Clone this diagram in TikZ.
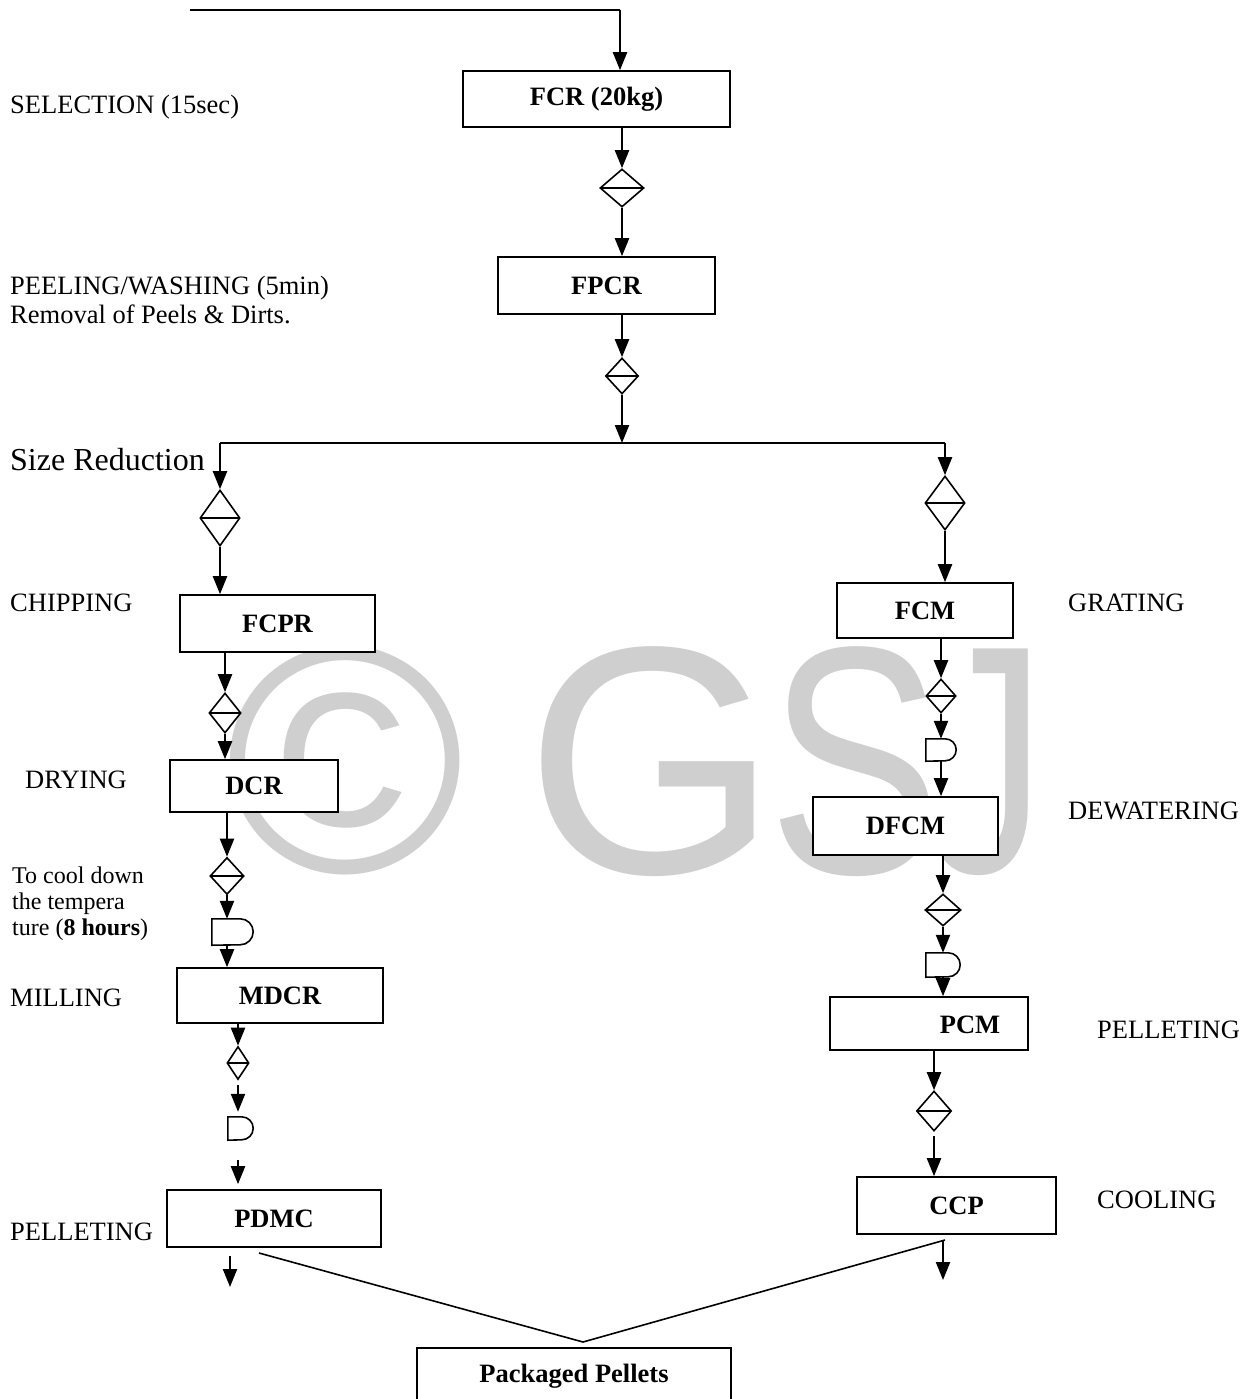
\documentclass[tikz,border=0pt]{standalone}
\usepackage{fontspec}
\setmainfont{Liberation Serif}
\newfontfamily\wmfont{Liberation Sans}
\usetikzlibrary{arrows.meta,shapes.geometric,calc}
\tikzset{
 box/.style={draw,line width=1.6pt,fill=white,inner sep=0,font=\bfseries\fontsize{26.5}{30}\selectfont},
 dia/.style={diamond,draw,line width=1.6pt,fill=white,inner sep=0,
   path picture={\draw[line width=1.6pt] (path picture bounding box.west) -- (path picture bounding box.east);}},
 arr/.style={line width=2.2pt,-{Triangle[length=18pt,width=14pt]}},
 ln/.style={line width=1.6pt},
 lbl/.style={anchor=west,inner sep=0,font=\fontsize{26.5}{29}\selectfont,align=left},
 wm/.style={text=gray!38,inner sep=0,font=\wmfont\fontsize{325}{330}\selectfont},
}
\newcommand\dshape[5]{%
  \node[inner sep=0,minimum width=#4pt,minimum height=#5pt] (#1) at (#2,-#3) {};
  \draw[ln,fill=white] (#1.south west) -- (#1.north west) -- ($(#1.north east)+(-#5/2,0)$)
     arc[start angle=90,end angle=-90,radius=#5/2] -- cycle;
}
\begin{document}
\begin{tikzpicture}[x=1pt,y=1pt]
\useasboundingbox (0,0) rectangle (1254,-1399);
% watermark
\node[wm] (wmc) at (345,-760) {©};
\node[wm] (wmg) at (652,-762) {G};
\node[wm] (wms) at (855,-762) {\scalebox{0.8}[1]{S}};
\node[wm] (wmj) at (985,-762) {\scalebox{0.75}[1]{J}};

% boxes
\node[box,minimum width=267pt,minimum height=56pt] (FCR) at (596.5,-99) {FCR (20kg)};
\node[box,minimum width=217pt,minimum height=57pt] (FPCR) at (606.5,-285.5) {FPCR};
\node[box,minimum width=195pt,minimum height=57pt] (FCPR) at (277.5,-623.5) {FCPR};
\node[box,minimum width=176pt,minimum height=55pt] (FCM) at (925,-610.5) {FCM};
\node[box,minimum width=168pt,minimum height=52pt] (DCR) at (254,-786) {DCR};
\node[box,minimum width=185pt,minimum height=58pt] (DFCM) at (905.5,-826) {DFCM};
\node[box,minimum width=206pt,minimum height=55pt] (MDCR) at (280,-995.5) {MDCR};
\node[box,minimum width=198pt,minimum height=53pt] (PCM) at (929,-1023.5) {};
\node[inner sep=0,font=\bfseries\fontsize{26.5}{30}\selectfont] (PCMt) at (970,-1025) {PCM};
\node[box,minimum width=214pt,minimum height=57pt] (PDMC) at (274,-1218.5) {PDMC};
\node[box,minimum width=199pt,minimum height=57pt] (CCP) at (956.5,-1205.5) {CCP};
\node[box,minimum width=314pt,minimum height=57pt] (PKG) at (574,-1376.5) {Packaged Pellets};

% diamonds
\node[dia,minimum width=44pt,minimum height=38pt] (d1) at (622,-188) {};
\node[dia,minimum width=33pt,minimum height=36pt] (d2) at (622,-376) {};
\node[dia,minimum width=40pt,minimum height=56pt] (d3) at (220,-518) {};
\node[dia,minimum width=40pt,minimum height=54pt] (d4) at (945,-503) {};
\node[dia,minimum width=32pt,minimum height=40pt] (d5) at (225,-713) {};
\node[dia,minimum width=30pt,minimum height=34pt] (d6) at (941,-696) {};
\node[dia,minimum width=34pt,minimum height=37pt] (d7) at (227,-876) {};
\node[dia,minimum width=36pt,minimum height=32pt] (d8) at (943,-910) {};
\node[dia,minimum width=22pt,minimum height=33pt] (d9) at (238,-1063) {};
\node[dia,minimum width=35pt,minimum height=40pt] (d10) at (934,-1111) {};

% delay shapes
\dshape{D1}{941}{750}{30}{22}
\dshape{D2}{232.5}{932}{41}{26}
\dshape{D3}{943}{965}{34}{24}
\dshape{D4}{240.5}{1128.5}{25}{23}

% connectors
\coordinate (tstart) at (190,-10);
\coordinate (tcorner) at (620,-10);
\draw[ln] (tstart) -- (tcorner);
\draw[arr] (tcorner) -- (tcorner |- FCR.north);
\draw[arr] (FCR.south -| d1) -- (d1.north);
\draw[arr] (d1.south) -- (d1.south |- FPCR.north);
\draw[arr] (FPCR.south -| d2) -- (d2.north);
\coordinate (bmid) at (622,-443);
\coordinate (bl) at (220,-443);
\coordinate (bright) at (945,-443);
\draw[arr] (d2.south) -- (bmid);
\draw[ln] (bl) -- (bright);
% left branch
\draw[arr] (bl) -- (d3.north);
\draw[arr] (d3.south) -- (d3.south |- FCPR.north);
\draw[arr] (FCPR.south -| d5) -- (d5.north);
\draw[arr] (d5.south) -- (d5.south |- DCR.north);
\draw[arr] (DCR.south -| d7) -- (d7.north);
\draw[arr] (d7.south) -- (d7.south |- D2.north);
\draw[arr] (D2.south -| d7) -- (d7.south |- MDCR.north);
\draw[arr] (MDCR.south -| d9) -- (d9.north);
\draw[arr,shorten <=5pt,shorten >=5pt] (d9.south) -- (d9.south |- D4.north);
\draw[arr,shorten <=20pt,shorten >=5pt] (D4.south -| d9) -- (d9.south |- PDMC.north);
\coordinate (lend) at (230,-1287);
\draw[arr,shorten <=8pt] (PDMC.south -| lend) -- (lend);
% right branch
\draw[arr] (bright) -- (d4.north);
\draw[arr] (d4.south) -- (d4.south |- FCM.north);
\draw[arr] (FCM.south -| d6) -- (d6.north);
\draw[arr] (d6.south) -- (d6.south |- D1.north);
\draw[arr] (D1.south -| d6) -- (d6.south |- DFCM.north);
\draw[arr] (DFCM.south -| d8) -- (d8.north);
\draw[arr] (d8.south) -- (d8.south |- D3.north);
\draw[arr] (D3.south -| d8) -- (d8.south |- PCM.north);
\draw[arr] (PCM.south -| d10) -- (d10.north);
\draw[arr,shorten <=4pt] (d10.south) -- (d10.south |- CCP.north);
\coordinate (rend) at (943,-1280);
\draw[arr,shorten <=6pt] (CCP.south -| rend) -- (rend);
% V to packaged pellets
\coordinate (v1) at (259,-1253);
\coordinate (vtx) at (583,-1342);
\coordinate (v2) at (945,-1240);
\draw[ln] (v1) -- (vtx) -- (v2);

% labels
\node[lbl] (tsel) at (10,-107) {SELECTION (15sec)};
\node[lbl] (tpeel) at (10,-300) {PEELING/WASHING (5min)\\Removal of Peels \& Dirts.};
\node[lbl,font=\fontsize{32}{36}\selectfont] (tsize) at (10,-460) {Size Reduction};
\node[lbl] (tchip) at (10,-603) {CHIPPING};
\node[lbl] (tgrat) at (1068,-603) {GRATING};
\node[lbl] (tdry) at (25,-780) {DRYING};
\node[lbl] (tdew) at (1068,-811) {DEWATERING};
\node[lbl,font=\fontsize{24}{26}\selectfont] (tcool) at (12,-904) {To cool down\\the tempera\\ture (\textbf{8 hours})};
\node[lbl] (tmill) at (10,-998) {MILLING};
\node[lbl] (tpel2) at (1097,-1030) {PELLETING};
\node[lbl] (tcoolg) at (1097,-1200) {COOLING};
\node[lbl] (tpel1) at (10,-1232) {PELLETING};
\end{tikzpicture}
\end{document}
